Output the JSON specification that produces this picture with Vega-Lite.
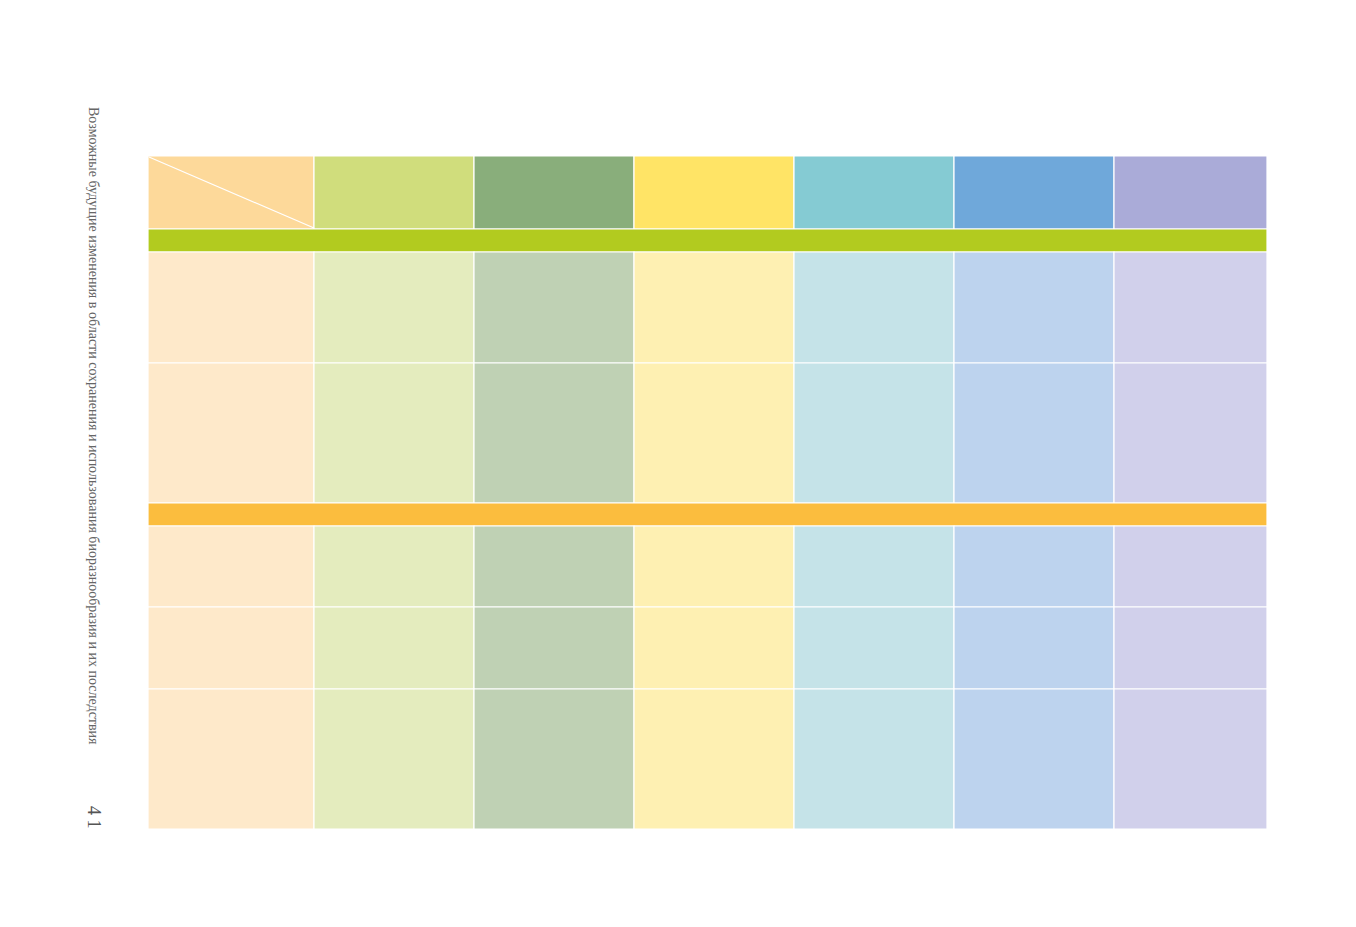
{
  "$schema": "https://vega.github.io/schema/vega-lite/v6.json",
  "width": 1356,
  "height": 927,
  "padding": 0,
  "autosize": {"type": "none"},
  "background": "white",
  "config": {"view": {"stroke": null}},
  "layer": [
    {
      "data": {"values": [
        {"k": "h0", "x0": 148, "x1": 314, "y0": 156, "y1": 229},
        {"k": "h1", "x0": 314, "x1": 474, "y0": 156, "y1": 229},
        {"k": "h2", "x0": 474, "x1": 634, "y0": 156, "y1": 229},
        {"k": "h3", "x0": 634, "x1": 794, "y0": 156, "y1": 229},
        {"k": "h4", "x0": 794, "x1": 954, "y0": 156, "y1": 229},
        {"k": "h5", "x0": 954, "x1": 1114, "y0": 156, "y1": 229},
        {"k": "h6", "x0": 1114, "x1": 1267, "y0": 156, "y1": 229},
        {"k": "green", "x0": 148, "x1": 1267, "y0": 229, "y1": 252},
        {"k": "b0", "x0": 148, "x1": 314, "y0": 252, "y1": 363},
        {"k": "b1", "x0": 314, "x1": 474, "y0": 252, "y1": 363},
        {"k": "b2", "x0": 474, "x1": 634, "y0": 252, "y1": 363},
        {"k": "b3", "x0": 634, "x1": 794, "y0": 252, "y1": 363},
        {"k": "b4", "x0": 794, "x1": 954, "y0": 252, "y1": 363},
        {"k": "b5", "x0": 954, "x1": 1114, "y0": 252, "y1": 363},
        {"k": "b6", "x0": 1114, "x1": 1267, "y0": 252, "y1": 363},
        {"k": "b0", "x0": 148, "x1": 314, "y0": 363, "y1": 503},
        {"k": "b1", "x0": 314, "x1": 474, "y0": 363, "y1": 503},
        {"k": "b2", "x0": 474, "x1": 634, "y0": 363, "y1": 503},
        {"k": "b3", "x0": 634, "x1": 794, "y0": 363, "y1": 503},
        {"k": "b4", "x0": 794, "x1": 954, "y0": 363, "y1": 503},
        {"k": "b5", "x0": 954, "x1": 1114, "y0": 363, "y1": 503},
        {"k": "b6", "x0": 1114, "x1": 1267, "y0": 363, "y1": 503},
        {"k": "orange", "x0": 148, "x1": 1267, "y0": 503, "y1": 526},
        {"k": "b0", "x0": 148, "x1": 314, "y0": 526, "y1": 607},
        {"k": "b1", "x0": 314, "x1": 474, "y0": 526, "y1": 607},
        {"k": "b2", "x0": 474, "x1": 634, "y0": 526, "y1": 607},
        {"k": "b3", "x0": 634, "x1": 794, "y0": 526, "y1": 607},
        {"k": "b4", "x0": 794, "x1": 954, "y0": 526, "y1": 607},
        {"k": "b5", "x0": 954, "x1": 1114, "y0": 526, "y1": 607},
        {"k": "b6", "x0": 1114, "x1": 1267, "y0": 526, "y1": 607},
        {"k": "b0", "x0": 148, "x1": 314, "y0": 607, "y1": 689},
        {"k": "b1", "x0": 314, "x1": 474, "y0": 607, "y1": 689},
        {"k": "b2", "x0": 474, "x1": 634, "y0": 607, "y1": 689},
        {"k": "b3", "x0": 634, "x1": 794, "y0": 607, "y1": 689},
        {"k": "b4", "x0": 794, "x1": 954, "y0": 607, "y1": 689},
        {"k": "b5", "x0": 954, "x1": 1114, "y0": 607, "y1": 689},
        {"k": "b6", "x0": 1114, "x1": 1267, "y0": 607, "y1": 689},
        {"k": "b0", "x0": 148, "x1": 314, "y0": 689, "y1": 829},
        {"k": "b1", "x0": 314, "x1": 474, "y0": 689, "y1": 829},
        {"k": "b2", "x0": 474, "x1": 634, "y0": 689, "y1": 829},
        {"k": "b3", "x0": 634, "x1": 794, "y0": 689, "y1": 829},
        {"k": "b4", "x0": 794, "x1": 954, "y0": 689, "y1": 829},
        {"k": "b5", "x0": 954, "x1": 1114, "y0": 689, "y1": 829},
        {"k": "b6", "x0": 1114, "x1": 1267, "y0": 689, "y1": 829}
      ]},
      "mark": {"type": "rect", "stroke": "white", "strokeWidth": 1.2},
      "encoding": {
        "x": {"field": "x0", "type": "quantitative", "scale": {"domain": [0, 1356]}, "axis": null},
        "x2": {"field": "x1"},
        "y": {"field": "y0", "type": "quantitative", "scale": {"domain": [0, 927], "reverse": true}, "axis": null},
        "y2": {"field": "y1"},
        "color": {
          "field": "k", "type": "nominal", "legend": null,
          "scale": {
            "domain": ["h0", "h1", "h2", "h3", "h4", "h5", "h6", "b0", "b1", "b2", "b3", "b4", "b5", "b6", "green", "orange"],
            "range": ["#FDD99A", "#D0DD7C", "#89AE7B", "#FFE466", "#85CBD3", "#6FA8DA", "#AAABD8", "#FEE9CA", "#E4ECBE", "#BFD1B4", "#FEF0B2", "#C5E3E8", "#BDD3EE", "#D1D0EB", "#B2CB1F", "#FBBD3E"]
          }
        }
      }
    },
    {
      "data": {"values": [{"xa": 149, "ya": 157, "xb": 314, "yb": 228}]},
      "mark": {"type": "rule", "color": "white", "strokeWidth": 1.2},
      "encoding": {
        "x": {"field": "xa", "type": "quantitative", "scale": {"domain": [0, 1356]}, "axis": null},
        "y": {"field": "ya", "type": "quantitative", "scale": {"domain": [0, 927], "reverse": true}, "axis": null},
        "x2": {"field": "xb"},
        "y2": {"field": "yb"}
      }
    },
    {
      "data": {"values": [
        {"t": "Возможные будущие изменения в области сохранения и использования биоразнообразия и их последствия", "tx": 93, "ty": 107}
      ]},
      "mark": {"type": "text", "angle": 90, "align": "left", "baseline": "middle", "font": "Liberation Serif", "fontSize": 14, "color": "#666666"},
      "encoding": {
        "x": {"field": "tx", "type": "quantitative", "scale": {"domain": [0, 1356]}, "axis": null},
        "y": {"field": "ty", "type": "quantitative", "scale": {"domain": [0, 927], "reverse": true}, "axis": null},
        "text": {"field": "t"}
      }
    },
    {
      "data": {"values": [
        {"t": "4 1", "tx": 93, "ty": 806}
      ]},
      "mark": {"type": "text", "angle": 90, "align": "left", "baseline": "middle", "font": "Liberation Serif", "fontSize": 18, "color": "#555555"},
      "encoding": {
        "x": {"field": "tx", "type": "quantitative", "scale": {"domain": [0, 1356]}, "axis": null},
        "y": {"field": "ty", "type": "quantitative", "scale": {"domain": [0, 927], "reverse": true}, "axis": null},
        "text": {"field": "t"}
      }
    }
  ]
}
